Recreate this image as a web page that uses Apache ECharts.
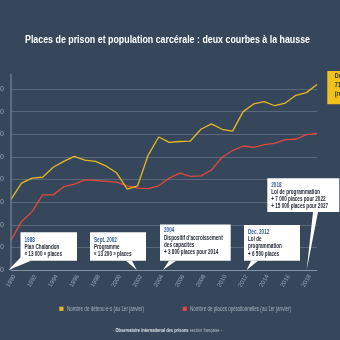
<!DOCTYPE html>
<html>
<head>
<meta charset="utf-8">
<script src="https://cdn.jsdelivr.net/npm/echarts@6/dist/echarts.min.js"></script>
<style>
  html, body { margin: 0; padding: 0; background: #36475b; }
  #chart { width: 340px; height: 340px; }
</style>
</head>
<body>
<div id="chart"></div>
<script>
// Years (1st January of each year)
const years = ['1990','1991','1992','1993','1994','1995','1996','1997','1998','1999',
               '2000','2001','2002','2003','2004','2005','2006','2007','2008','2009',
               '2010','2011','2012','2013','2014','2015','2016','2017','2018','2019'];

// Number of detainees at 1st January
const detenus = [45600, 49200, 50300, 50500, 52700, 54000, 55100, 54300, 54000, 53000,
                 51500, 47900, 48600, 55400, 59400, 58200, 58400, 58500, 61100, 62300,
                 61100, 60700, 65000, 66700, 67200, 66300, 66900, 68600, 69200, 71000];

// Number of operational prison places at 1st January
const places = [36600, 40700, 42900, 46600, 46600, 48400, 49000, 49900, 49800, 49600,
                49400, 48600, 48100, 48000, 48600, 50300, 51400, 50700, 50800, 52100,
                54900, 56400, 57400, 57100, 57700, 58000, 58800, 58900, 59900, 60200];

// Value-axis ticks
const yMin = 30000, yMax = 70000, yStep = 5000;

const seriesNames = ['Nombre de détenu·e·s (au 1er janvier)',
                     'Nombre de places opérationnelles (au 1er janvier)'];

const FONT = "'Liberation Sans', Arial, sans-serif";
const BG = '#36475b';
const YELLOW = '#e6b91e';
const RED = '#e2483b';
const GRID = '#5a687a';
const AXIS = '#8593a3';
const TEXT_DARK = '#1f2530';
const TEXT_BLUE = '#2f5a9e';

function fmt(v) {
  return String(v).replace(/\B(?=(\d{3})+(?!\d))/g, ' ');
}

// Text measurement, used to squeeze text horizontally into a condensed look
const mctx = document.createElement('canvas').getContext('2d');
function textWidth(text, font) {
  mctx.font = font;
  return mctx.measureText(text).width;
}

const chart = echarts.init(document.getElementById('chart'), null, { renderer: 'canvas' });

chart.setOption({
  backgroundColor: BG,
  animation: false,
  grid: { left: 11, right: 23, top: 89, bottom: 70, outerBoundsMode: 'none', containLabel: false },
  xAxis: {
    type: 'category',
    data: years,
    boundaryGap: false,
    axisLine: { lineStyle: { color: AXIS, width: 1 } },
    axisTick: { show: false },
    axisLabel: {
      interval: 1,
      rotate: 60,
      align: 'center',
      verticalAlign: 'middle',
      margin: 11,
      color: '#9aa5b2',
      fontSize: 6,
      fontFamily: FONT
    },
    splitLine: { show: false }
  },
  yAxis: {
    type: 'value',
    min: yMin,
    max: yMax,
    interval: yStep,
    axisLine: { show: false },
    axisTick: { show: false },
    axisLabel: { color: '#9aa5b2', fontSize: 7, fontFamily: FONT, margin: 7, formatter: fmt },
    splitLine: { lineStyle: { color: GRID, width: 1 } }
  },
  series: [
    {
      name: seriesNames[0],
      type: 'line',
      data: detenus,
      showSymbol: false,
      clip: false,
      z: 3,
      itemStyle: { color: YELLOW },
      lineStyle: { color: YELLOW, width: 1.3 }
    },
    {
      name: seriesNames[1],
      type: 'line',
      data: places,
      showSymbol: false,
      clip: false,
      z: 2,
      itemStyle: { color: RED },
      lineStyle: { color: RED, width: 1.3 }
    }
  ]
});

// --- Text and annotations -------------------------------------------------

// A single line of text, condensed by a horizontal scale factor
function squeezedText(x, y, text, font, fill, sx, align) {
  return {
    type: 'text',
    x: x,
    y: y,
    scaleX: sx,
    style: { x: 0, y: 0, text: text, font: font, fill: fill,
             align: align || 'left', verticalAlign: 'middle' },
    z: 12
  };
}

// Line of text fitted to a given width
function fittedText(x, y, width, text, font, fill) {
  return squeezedText(x, y, text, font, fill, width / textWidth(text, font));
}

const CALLOUT_FONT = 'bold 6.5px ' + FONT;
const CALLOUT_SX = 0.71;

// Callout: white box, thin tail down to the axis, first line as a blue heading
function callout(box, tail, lines, opts) {
  opts = opts || {};
  const fill = opts.fill || '#ffffff';
  const lh = opts.lineHeight || 7.2;
  const children = [
    { type: 'polygon', shape: { points: tail }, style: { fill: fill }, z: 10 },
    { type: 'rect', shape: { x: box[0], y: box[1], width: box[2], height: box[3] },
      style: { fill: fill }, z: 10 }
  ];
  lines.forEach(function (t, i) {
    const color = (i === 0 && !opts.plain) ? TEXT_BLUE : TEXT_DARK;
    children.push(squeezedText(box[0] + (opts.padX || 4), box[1] + (opts.firstLine || 7.6) + i * lh,
      t, opts.font || CALLOUT_FONT, color, opts.sx || CALLOUT_SX));
  });
  return { type: 'group', children: children };
}

// y-axis line, from the origin up a little above the top grid line
const origin = chart.convertToPixel({ gridIndex: 0 }, [0, yMin]);
const topPt = chart.convertToPixel({ gridIndex: 0 }, [0, yMin + (yMax - yMin) * 1.083]);

// Legend
const LEGEND_FONT = '6.5px ' + FONT;
const legendItems = [
  { color: YELLOW, x: 59.3, textX: 67, width: 77 },
  { color: RED, x: 182.7, textX: 190, width: 101 }
];
const legendGraphics = [];
legendItems.forEach(function (it, i) {
  legendGraphics.push({ type: 'rect', shape: { x: it.x, y: 306.7, width: 4.2, height: 4.2 },
                        style: { fill: it.color }, z: 12 });
  legendGraphics.push(fittedText(it.textX, 309, it.width, seriesNames[i], LEGEND_FONT, '#a9b2bd'));
});

// Title
const TITLE = 'Places de prison et population carcérale : deux courbes à la hausse';
const TITLE_FONT = 'bold 10.5px ' + FONT;

// Footer
const FOOT_B = 'Observatoire international des prisons';
const FOOT_N1 = '- ';
const FOOT_N2 = ' section française -';
const FOOT_BF = 'bold 6px ' + FONT;
const FOOT_NF = '6px ' + FONT;
const footW = textWidth(FOOT_N1, FOOT_NF) + textWidth(FOOT_B, FOOT_BF) + textWidth(FOOT_N2, FOOT_NF);

const lastIdx = detenus.length - 1;

chart.setOption({
  graphic: [
    {
      type: 'line',
      shape: { x1: origin[0], y1: origin[1], x2: topPt[0], y2: topPt[1] },
      style: { stroke: AXIS, lineWidth: 1 },
      z: 5
    },
    fittedText(25, 40, 285, TITLE, TITLE_FONT, '#ffffff'),
    callout([20.5, 232.3, 56.5, 28.4], [[21, 257], [31, 260.7], [8.5, 270]],
      ['1988', 'Plan Chalandon', '« 13 000 » places'], { firstLine: 7.7, lineHeight: 7 }),
    callout([90, 232.3, 56, 28.4], [[126, 260.7], [132, 260.7], [136.7, 270]],
      ['Sept. 2002', 'Programme', '« 13 200 » places'], { firstLine: 7.7, lineHeight: 7 }),
    callout([160, 224.5, 70.7, 36.2], [[169, 260.7], [176, 260.7], [163, 270]],
      ['2004', 'Dispositif d\u2019accroissement', 'des capacités', '+ 3 800 places pour 2014'],
      { firstLine: 6.2 }),
    callout([244, 225, 56, 35.7], [[251, 260.7], [258, 260.7], [246.7, 270]],
      ['Déc. 2012', 'Loi de', 'programmation', '+ 6 500 places'], { firstLine: 7.3 }),
    callout([267.3, 178.3, 72, 33.7], [[313, 212], [318, 212], [306.7, 270]],
      ['2018', 'Loi de programmation', '+ 7 000 places pour 2022', '+ 15 000 places pour 2027'],
      { firstLine: 6.7 }),
    callout([327.3, 71, 40, 33.3], [[327.3, 80], [327.3, 80], [327.3, 80]],
      ['Détenu·e·s', fmt(detenus[lastIdx]) + ' au 1er janvier ' + years[lastIdx], '(record)'],
      { fill: '#f2c21a', plain: true, font: 'bold 7px ' + FONT, sx: 0.78,
        lineHeight: 8.6, padX: 7.5, firstLine: 5.5 }),
    {
      type: 'text',
      x: 167.5,
      y: 330.7,
      scaleX: 109 / footW,
      z: 12,
      style: {
        x: 0, y: 0,
        align: 'center',
        verticalAlign: 'middle',
        text: '{n|' + FOOT_N1 + '}{b|' + FOOT_B + '}{n|' + FOOT_N2 + '}',
        rich: {
          n: { fill: '#b7bfc9', font: FOOT_NF },
          b: { fill: '#dfe3e8', font: FOOT_BF }
        }
      }
    }
  ].concat(legendGraphics)
});
</script>
</body>
</html>
